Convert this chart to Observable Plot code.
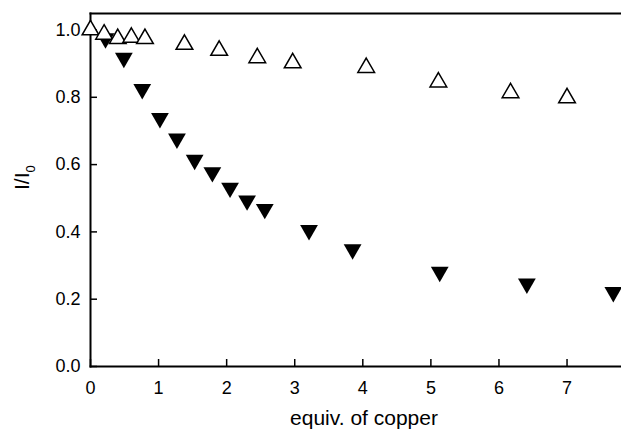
<!DOCTYPE html>
<html><head><meta charset="utf-8">
<script src="https://cdn.jsdelivr.net/npm/d3@7"></script>
<script src="https://cdn.jsdelivr.net/npm/@observablehq/plot@0.6"></script>
<style>body{margin:0;background:#fff} svg{display:block}</style>
</head><body><div id="chart"></div>
<script>
const openX = [0, 0.2, 0.4, 0.6, 0.8, 1.38, 1.89, 2.45, 2.97, 4.05, 5.11, 6.17, 7.0];
const openY = [1.0, 0.987, 0.974, 0.978, 0.974, 0.957, 0.939, 0.917, 0.902, 0.888, 0.845, 0.813, 0.798];
const filledX = [0.22, 0.49, 0.76, 1.02, 1.27, 1.53, 1.79, 2.05, 2.30, 2.56, 3.21, 3.85, 5.13, 6.41, 7.68];
const filledY = [0.975, 0.917, 0.824, 0.738, 0.677, 0.614, 0.577, 0.531, 0.493, 0.468, 0.405, 0.348, 0.281, 0.246, 0.221];
const xTicks = [0, 1, 2, 3, 4, 5, 6, 7];
const yTicks = [0, 0.2, 0.4, 0.6, 0.8, 1.0];
const xLabel = "equiv. of copper";
const yLabelMain = "I/I";
const yLabelSub = "0";

const openData = openX.map((x, i) => ({x, y: openY[i]}));
const filledData = filledX.map((x, i) => ({x, y: filledY[i]}));

const chart = Plot.plot({
  width: 621, height: 435,
  marginLeft: 90, marginRight: 0, marginTop: 13, marginBottom: 69,
  style: {fontFamily: "'Liberation Sans', Arial, sans-serif", background: "#fff", color: "#000"},
  x: {domain: [0, 7.8]},
  y: {domain: [0, 1.049]},
  marks: [
    Plot.axisX(xTicks, {tickSize: -7, tickPadding: 22, fontSize: 18, strokeWidth: 1.5, label: null, tickFormat: "d"}),
    Plot.axisY(yTicks, {tickSize: -7, tickPadding: 17, fontSize: 18, strokeWidth: 1.5, label: null, tickFormat: ".1f"}),
    Plot.frame({anchor: "top", strokeWidth: 2}),
    Plot.frame({anchor: "left", strokeWidth: 2}),
    Plot.frame({anchor: "bottom", strokeWidth: 2}),
    Plot.dot(filledData, {x: "x", y: "y", symbol: "triangle", rotate: 180, r: 6.6, fill: "black", stroke: "none"}),
    Plot.dot(openData, {x: "x", y: "y", symbol: "triangle", r: 6.2, fill: "white", stroke: "black", strokeWidth: 1.5}),
    Plot.text([xLabel], {frameAnchor: "bottom", dy: 44, dx: 8, fontSize: 21, lineAnchor: "top"}),
    Plot.text([yLabelMain], {frameAnchor: "left", dx: -62, rotate: -90, fontSize: 21, lineAnchor: "bottom", className: "ylab"})
  ]
});
document.getElementById("chart").appendChild(chart);
const t = chart.querySelector(".ylab text");
if (t) {
  const ts = document.createElementNS("http://www.w3.org/2000/svg", "tspan");
  ts.setAttribute("font-size", "13");
  ts.setAttribute("dy", "6");
  ts.textContent = yLabelSub;
  t.appendChild(ts);
}
</script>
</body></html>
